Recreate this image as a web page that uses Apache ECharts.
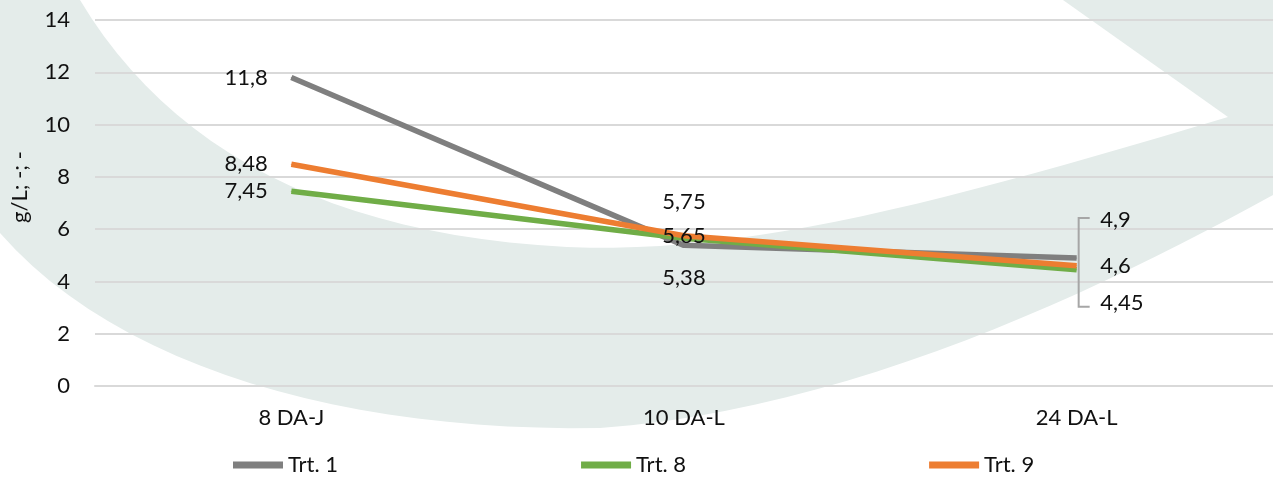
<!DOCTYPE html>
<html>
<head>
<meta charset="utf-8">
<script src="https://cdn.jsdelivr.net/npm/echarts@6/dist/echarts.min.js"></script>
<style>
  html, body { margin: 0; padding: 0; background: #fff; }
  #chart { width: 1273px; height: 477px; }
</style>
</head>
<body>
<div id="chart"></div>
<script>
// data
var categories = ['8 DA-J', '10 DA-L', '24 DA-L'];
var seriesNames = ['Trt. 1', 'Trt. 8', 'Trt. 9'];
var trt1 = [11.8, 5.38, 4.9];
var trt8 = [7.45, 5.65, 4.45];
var trt9 = [8.48, 5.75, 4.6];
var labelTexts1 = ['11,8', '5,38', '4,9'];
var labelTexts8 = ['7,45', '5,65', '4,45'];
var labelTexts9 = ['8,48', '5,75', '4,6'];
var yTicks = [0, 14, 2]; // min, max, interval

var colors = ['#7f7f7f', '#70ad47', '#ed7d31'];
var font = 'Lato, "Liberation Sans", sans-serif';

var chart = echarts.init(document.getElementById('chart'));

// label placement per point (first point: left, middle: stacked, last: right with bracket)
function labelCfg(texts, midOffset, endOffset) {
  return [
    { position: 'left', distance: 23, formatter: texts[0] },
    { position: 'inside', offset: [0, midOffset], formatter: texts[1] },
    { position: 'right', distance: 23, offset: [0, endOffset], formatter: texts[2] }
  ];
}

function buildData(values, labels) {
  return values.map(function (v, i) {
    return { value: v, label: labels[i] };
  });
}

function lineSeries(name, values, color, labels) {
  return {
    name: name,
    type: 'line',
    data: buildData(values, labels),
    symbol: 'circle',
    symbolSize: 1,
    itemStyle: { color: color },
    lineStyle: { color: color, width: 5.5 },
    label: {
      show: true,
      color: '#111',
      fontFamily: font,
      fontSize: 22
    },
    emphasis: { disabled: true },
    animation: false
  };
}

// background swoosh (decoration of the original figure), traced as bezier pieces
function bez(p0, p1, p2, p3, out) {
  for (var i = 1; i <= 24; i++) {
    var t = i / 24, u = 1 - t;
    out.push([
      u * u * u * p0[0] + 3 * u * u * t * p1[0] + 3 * u * t * t * p2[0] + t * t * t * p3[0],
      u * u * u * p0[1] + 3 * u * u * t * p1[1] + 3 * u * t * t * p2[1] + t * t * t * p3[1]
    ]);
  }
}
var swoosh = [[0, 0], [80, 0]];
bez([80, 0], [170, 150], [330, 235], [567, 247], swoosh);
bez([567, 247], [750, 255], [950, 200], [1228, 117], swoosh);
swoosh.push([1063, 0], [1273, 0], [1273, 195]);
bez([1273, 195], [1100, 290], [850, 410], [600, 428], swoosh);
bez([600, 428], [350, 432], [120, 370], [0, 233], swoosh);

var option = {
  backgroundColor: '#fff',
  color: colors,
  graphic: {
    elements: [{
      id: 'swoosh',
      type: 'polygon',
      z: -100,
      silent: true,
      shape: { points: swoosh },
      style: { fill: '#e4ecea' }
    }]
  },
  grid: { left: 95, right: 0, top: 20, bottom: 91 },
  legend: {
    data: seriesNames,
    left: 228,
    top: 449,
    icon: 'rect',
    itemWidth: 50,
    itemHeight: 7,
    itemGap: 243,
    textStyle: { color: '#111', fontFamily: font, fontSize: 22 }
  },
  xAxis: {
    type: 'category',
    data: categories,
    boundaryGap: true,
    axisLine: { lineStyle: { color: '#d9d9d9', width: 2 } },
    axisTick: { show: false },
    axisLabel: { color: '#111', fontFamily: font, fontSize: 22, margin: 21 }
  },
  yAxis: {
    type: 'value',
    min: yTicks[0],
    max: yTicks[1],
    interval: yTicks[2],
    name: 'g/L; -; -',
    nameLocation: 'middle',
    nameGap: 64,
    nameTextStyle: { color: '#111', fontFamily: font, fontSize: 22, padding: [0, 0, 0, 32] },
    axisLine: { show: false },
    axisTick: { show: false },
    axisLabel: { color: '#111', fontFamily: font, fontSize: 22, margin: 25 },
    splitLine: { lineStyle: { color: '#d9d9d9', width: 2 } }
  },
  series: [
    lineSeries(seriesNames[0], trt1, colors[0], labelCfg(labelTexts1, 33, -38)),
    lineSeries(seriesNames[1], trt8, colors[1], labelCfg(labelTexts8, -2, 33)),
    lineSeries(seriesNames[2], trt9, colors[2], labelCfg(labelTexts9, -34, 0))
  ]
};

chart.setOption(option);

// bracket joining the last-point labels (like the leader lines of the original)
var topPt = chart.convertToPixel({ gridIndex: 0 }, [2, trt1[2]]);
var botPt = chart.convertToPixel({ gridIndex: 0 }, [2, trt8[2]]);
var bx = topPt[0] + 2;
var yTop = topPt[1] - 40;
var yBot = botPt[1] + 37;
chart.setOption({
  graphic: {
    elements: [{
      id: 'bracket',
      type: 'polyline',
      silent: true,
      z: 10,
      shape: { points: [[bx + 11, yTop], [bx, yTop], [bx, yBot], [bx + 11, yBot]] },
      style: { stroke: '#a6a6a6', lineWidth: 2, fill: null }
    }]
  }
});
</script>
</body>
</html>
